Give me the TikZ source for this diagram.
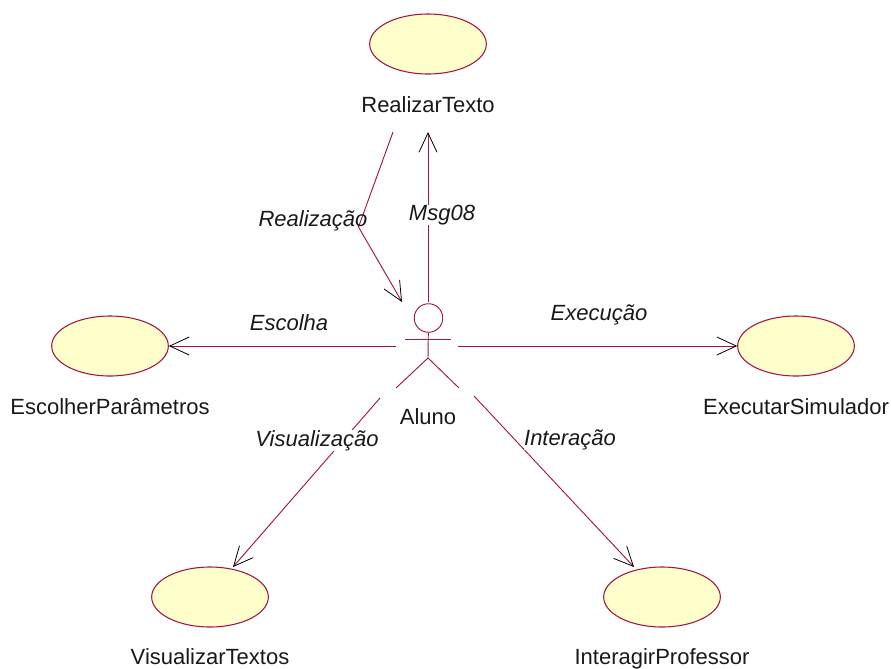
\documentclass[tikz,border=0pt]{standalone}
\usepackage{fontspec}
\setmainfont{Liberation Sans}
\usetikzlibrary{arrows.meta,shapes.geometric}
\definecolor{rosered}{RGB}{165,20,70}
\definecolor{caseyellow}{RGB}{255,255,204}

\begin{document}
\begin{tikzpicture}[x=0.75pt,y=-0.75pt,
  usecase/.style={ellipse,draw=rosered,fill=caseyellow,line width=0.8pt,inner sep=0pt,
    minimum width=87.5pt,minimum height=45pt},
  casename/.style={font=\fontsize{16.5}{18}\selectfont,text=black!90,inner sep=0pt,anchor=base},
  assoclabel/.style={font=\fontsize{16.5}{18}\selectfont\itshape,text=black!90,inner sep=0pt,anchor=base},
  maskedlabel/.style={assoclabel,fill=white},
  limb/.style={draw=rosered,line width=0.7pt},
  assoc/.style={draw=rosered,line width=0.7pt,-{Straight Barb[black,length=14.5pt,width=13.5pt,line width=0.6pt]}}]
  \useasboundingbox (0,0) rectangle (891,668);

  % use cases
  \node[usecase] (realizar) at (428,44) {};
  \node[usecase] (escolher) at (110,346) {};
  \node[usecase] (executar) at (796,346) {};
  \node[usecase] (visualizar) at (210,597) {};
  \node[usecase] (interagir) at (662,597) {};

  % their names
  \node[casename] (realizarname) at (428,112) {RealizarTexto};
  \node[casename] (escolhername) at (110,414) {EscolherParâmetros};
  \node[casename] (executarname) at (796,414) {ExecutarSimulador};
  \node[casename] (visualizarname) at (210,664) {VisualizarTextos};
  \node[casename] (interagirname) at (662,664) {InteragirProfessor};

  % the actor
  \node[circle,limb,minimum size=21.4pt,inner sep=0pt] (head) at (428.5,318) {};
  \coordinate (armleft) at (405,339);
  \coordinate (armright) at (451,339);
  \coordinate (hip) at (428,358);
  \coordinate (footleft) at (396,388);
  \coordinate (footright) at (459,388);
  \draw[limb] (armleft) -- (armright);
  \draw[limb] (head) -- (hip);
  \draw[limb] (footleft) -- (hip) -- (footright);
  \node[casename] (aluno) at (428,424) {Aluno};

  % free ends of the associations
  \coordinate (realizarfrom) at (393,132);
  \coordinate (realizarbend) at (358.5,227);
  \coordinate (realizarto) at (402,302);
  \coordinate (msgfrom) at (428,302);
  \coordinate (msgto) at (428,132);
  \coordinate (escolhafrom) at (396,346);
  \coordinate (execucaofrom) at (458,346);
  \coordinate (visualfrom) at (380,398);
  \coordinate (visualto) at (233,567);
  \coordinate (interfrom) at (474,396);
  \coordinate (interto) at (634,567);

  \draw[assoc] (realizarfrom) -- (realizarbend) -- (realizarto);
  \draw[assoc] (msgfrom) -- (msgto);
  \draw[assoc] (escolhafrom) -- (escolher.east);
  \draw[assoc] (execucaofrom) -- (executar.west);
  \draw[assoc] (visualfrom) -- (visualto);
  \draw[assoc] (interfrom) -- (interto);

  % association labels
  \node[assoclabel] (realizacao) at (313,226) {Realização};
  \node[maskedlabel] (msg) at (442,220) {Msg08};
  \node[assoclabel] (escolha) at (289,330) {Escolha};
  \node[assoclabel] (execucao) at (599,320) {Execução};
  \node[maskedlabel] (visualizacao) at (317,446) {Visualização};
  \node[maskedlabel] (interacao) at (570,445) {Interação};
\end{tikzpicture}
\end{document}
